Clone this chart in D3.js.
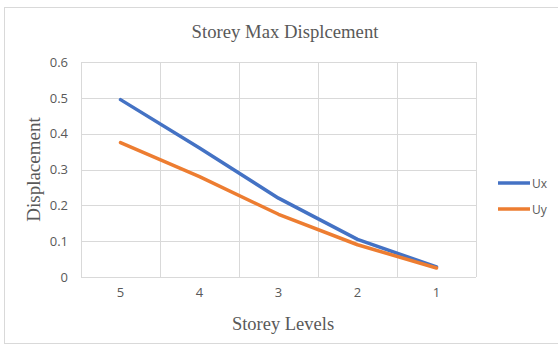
<!DOCTYPE html>
<html>
<head>
<meta charset="utf-8">
<script src="https://cdn.jsdelivr.net/npm/d3@7"></script>
<style>
  html, body { margin: 0; padding: 0; background: #fff; }
  svg { display: block; }
</style>
</head>
<body>
<svg id="chart" width="558" height="348"></svg>
<script>
// Storey levels (top storey first) and peak displacement per direction
const storeys = ["5", "4", "3", "2", "1"];
const ux = [0.495, 0.36, 0.22, 0.105, 0.028];
const uy = [0.375, 0.28, 0.175, 0.09, 0.025];
const yTicks = [0, 0.1, 0.2, 0.3, 0.4, 0.5, 0.6];
const seriesNames = ["Ux", "Uy"];
const seriesColors = ["#4472C4", "#ED7D31"];

const svg = d3.select("#chart");
const W = 558, H = 348;
const plot = { left: 81, right: 476, top: 62, bottom: 277 };

// chart frame
svg.append("rect")
  .attr("x", 4.5).attr("y", 7.5)
  .attr("width", W - 4).attr("height", H - 12)
  .attr("fill", "#fff").attr("stroke", "#d9d9d9").attr("stroke-width", 1);

const x = d3.scaleBand().domain(storeys).range([plot.left, plot.right]).padding(0);
const y = d3.scaleLinear().domain([0, 0.6]).range([plot.bottom, plot.top]);

// horizontal gridlines
svg.append("g").selectAll("line").data(yTicks).join("line")
  .attr("x1", plot.left).attr("x2", plot.right)
  .attr("y1", d => Math.round(y(d)) + 0.5).attr("y2", d => Math.round(y(d)) + 0.5)
  .attr("stroke", "#d9d9d9").attr("stroke-width", 1);

// vertical gridlines at band edges
const edges = storeys.map(s => x(s)).concat([x(storeys[storeys.length - 1]) + x.bandwidth()]);
svg.append("g").selectAll("line").data(edges).join("line")
  .attr("x1", d => Math.round(d) + 0.5).attr("x2", d => Math.round(d) + 0.5)
  .attr("y1", plot.top).attr("y2", plot.bottom)
  .attr("stroke", "#d9d9d9").attr("stroke-width", 1);

// y axis tick labels
const yAxis = d3.axisLeft(y).tickValues(yTicks).tickSize(0).tickPadding(13)
  .tickFormat(d => d === 0 ? "0" : d3.format(".1f")(d));
svg.append("g").attr("transform", `translate(${plot.left},0)`).call(yAxis)
  .call(g => g.select(".domain").remove())
  .selectAll("text")
  .attr("font-family", "'Open Sans', 'Liberation Sans', sans-serif")
  .attr("font-size", 13).attr("fill", "#595959");

// x axis tick labels
const xAxis = d3.axisBottom(x).tickSize(0).tickPadding(11);
svg.append("g").attr("transform", `translate(0,${plot.bottom})`).call(xAxis)
  .call(g => g.select(".domain").remove())
  .selectAll("text")
  .attr("font-family", "'Open Sans', 'Liberation Sans', sans-serif")
  .attr("font-size", 13).attr("fill", "#595959");

// series lines
const line = d3.line()
  .x((d, i) => x(storeys[i]) + x.bandwidth() / 2)
  .y(d => y(d));
[ux, uy].forEach((vals, k) => {
  svg.append("path").datum(vals)
    .attr("d", line)
    .attr("fill", "none")
    .attr("stroke", seriesColors[k])
    .attr("stroke-width", 3.5)
    .attr("stroke-linejoin", "round")
    .attr("stroke-linecap", "round");
});

// titles
svg.append("text")
  .attr("x", 285).attr("y", 38)
  .attr("text-anchor", "middle")
  .attr("font-family", "'Liberation Serif', serif")
  .attr("font-size", 18.7).attr("fill", "#595959")
  .text("Storey Max Displcement");

svg.append("text")
  .attr("x", 283).attr("y", 330)
  .attr("text-anchor", "middle")
  .attr("font-family", "'Liberation Serif', serif")
  .attr("font-size", 18.5).attr("fill", "#595959")
  .text("Storey Levels");

svg.append("text")
  .attr("transform", `translate(40,${(plot.top + plot.bottom) / 2}) rotate(-90)`)
  .attr("text-anchor", "middle")
  .attr("font-family", "'Liberation Serif', serif")
  .attr("font-size", 19).attr("fill", "#595959")
  .text("Displacement");

// legend
const legend = svg.append("g");
seriesNames.forEach((name, k) => {
  const ly = 183 + k * 26;
  legend.append("line")
    .attr("x1", 498).attr("x2", 530).attr("y1", ly).attr("y2", ly)
    .attr("stroke", seriesColors[k]).attr("stroke-width", 3.5);
  legend.append("text")
    .attr("x", 532).attr("y", ly + 4.5)
    .attr("font-family", "'Open Sans', 'Liberation Sans', sans-serif")
    .attr("font-size", 12).attr("fill", "#595959")
    .text(name);
});
</script>
</body>
</html>
